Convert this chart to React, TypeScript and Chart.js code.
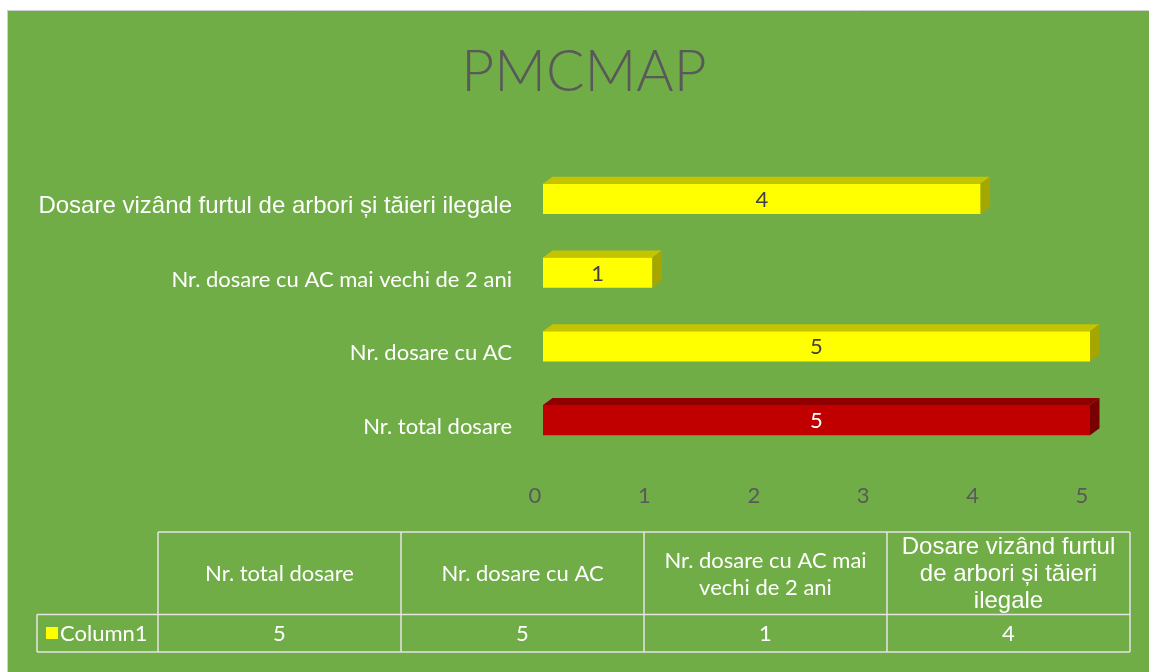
import { useEffect, useRef } from 'react';
import { Chart, registerables } from 'chart.js';

Chart.register(...registerables);

// ---- data ----
const categories = [
  'Nr. total dosare',
  'Nr. dosare cu AC',
  'Nr. dosare cu AC mai vechi de 2 ani',
  'Dosare vizând furtul de arbori și tăieri ilegale',
];
const values = [5, 5, 1, 4];
const seriesName = 'Column1';
const xTickValues = [0, 1, 2, 3, 4, 5];
const titleText = 'PMCMAP';

// ---- styles ----
const GREEN = '#70AD47';
const frontColors = ['#C00000', '#FFFF00', '#FFFF00', '#FFFF00'];
const topColors = ['#900000', '#C4C400', '#C4C400', '#C4C400'];
const sideColors = ['#780000', '#A6A600', '#A6A600', '#A6A600'];
const valueColors = ['#FFFFFF', '#404040', '#404040', '#404040'];
const useArial = [false, false, false, true];
const CAL = 'Lato, "Noto Sans", sans-serif';
const ARIAL = '"Liberation Sans", Arial, sans-serif';
const CAL_SIZE = 22;
const ARIAL_SIZE = 24;
const DEPTH_X = 9.5;
const DEPTH_Y = -7;

const CANVAS_W = 1142;
const CANVAS_H = 662;

const catFont = (i: number) =>
  useArial[i] ? `${ARIAL_SIZE}px ${ARIAL}` : `${CAL_SIZE}px ${CAL}`;

function wrapText(ctx: CanvasRenderingContext2D, text: string, maxW: number): string[] {
  const words = text.split(' ');
  const lines: string[] = [];
  let cur = '';
  for (const w of words) {
    const t = cur ? cur + ' ' + w : w;
    if (ctx.measureText(t).width > maxW && cur) {
      lines.push(cur);
      cur = w;
    } else cur = t;
  }
  if (cur) lines.push(cur);
  return lines;
}

const backgroundPlugin = {
  id: 'bg',
  beforeDraw(chart: any) {
    const { ctx, width, height } = chart;
    ctx.save();
    ctx.fillStyle = GREEN;
    ctx.fillRect(0, 0, width, height);
    ctx.strokeStyle = '#D0D0D0';
    ctx.lineWidth = 1;
    ctx.beginPath();
    ctx.moveTo(0.5, height);
    ctx.lineTo(0.5, 0.5);
    ctx.lineTo(width, 0.5);
    ctx.stroke();
    // chart title
    ctx.fillStyle = '#595959';
    ctx.font = `300 57px ${CAL}`;
    ctx.textAlign = 'center';
    ctx.textBaseline = 'alphabetic';
    ctx.fillText(titleText, width / 2 + 6, 81);
    ctx.restore();
  },
};

const bars3dPlugin = {
  id: 'bars3d',
  afterDatasetsDraw(chart: any) {
    const { ctx } = chart;
    const meta = chart.getDatasetMeta(0);
    meta.data.forEach((el: any, i: number) => {
      const { x, y, base, height } = el.getProps(['x', 'y', 'base', 'height'], true);
      const left = Math.min(base, x);
      const right = Math.max(base, x);
      const top = y - height / 2;
      const bottom = y + height / 2;
      ctx.save();
      // top face
      ctx.fillStyle = topColors[i];
      ctx.beginPath();
      ctx.moveTo(left, top);
      ctx.lineTo(left + DEPTH_X, top + DEPTH_Y);
      ctx.lineTo(right + DEPTH_X, top + DEPTH_Y);
      ctx.lineTo(right, top);
      ctx.closePath();
      ctx.fill();
      // side face
      ctx.fillStyle = sideColors[i];
      ctx.beginPath();
      ctx.moveTo(right, top);
      ctx.lineTo(right + DEPTH_X, top + DEPTH_Y);
      ctx.lineTo(right + DEPTH_X, bottom + DEPTH_Y);
      ctx.lineTo(right, bottom);
      ctx.closePath();
      ctx.fill();
      // value label
      ctx.fillStyle = valueColors[i];
      ctx.font = `${CAL_SIZE}px ${CAL}`;
      ctx.textAlign = 'center';
      ctx.textBaseline = 'middle';
      ctx.fillText(String(chart.data.datasets[0].data[i]), (left + right) / 2, y + 1);
      ctx.restore();
    });
  },
};

const dataTablePlugin = {
  id: 'dataTable',
  afterDraw(chart: any) {
    const { ctx } = chart;
    const labels: string[] = chart.data.labels;
    const data: number[] = chart.data.datasets[0].data;
    const n = labels.length;
    const tLeft = 151;
    const tRight = 1123;
    const legendLeft = 30;
    const yTop = 522;
    const yMid = 604.5;
    const yBot = 642;
    const colW = (tRight - tLeft) / n;
    ctx.save();
    ctx.strokeStyle = '#E4E4E4';
    ctx.lineWidth = 1.5;
    ctx.beginPath();
    ctx.moveTo(tLeft, yTop);
    ctx.lineTo(tRight, yTop);
    ctx.moveTo(legendLeft, yMid);
    ctx.lineTo(tRight, yMid);
    ctx.moveTo(legendLeft, yBot);
    ctx.lineTo(tRight, yBot);
    for (let c = 0; c <= n; c++) {
      const xx = tLeft + c * colW;
      ctx.moveTo(xx, yTop);
      ctx.lineTo(xx, yBot);
    }
    ctx.moveTo(legendLeft, yMid);
    ctx.lineTo(legendLeft, yBot);
    ctx.stroke();

    ctx.fillStyle = '#FFFFFF';
    ctx.textAlign = 'center';
    ctx.textBaseline = 'middle';
    const lineH = 27;
    for (let c = 0; c < n; c++) {
      const cx = tLeft + c * colW + colW / 2;
      ctx.font = catFont(c);
      const lines = wrapText(ctx, labels[c], colW - 10);
      const cy = (yTop + yMid) / 2 + 1;
      lines.forEach((ln, k) => {
        ctx.fillText(ln, cx, cy + (k - (lines.length - 1) / 2) * lineH);
      });
      ctx.font = `${CAL_SIZE}px ${CAL}`;
      ctx.fillText(String(data[c]), cx, (yMid + yBot) / 2 + 1);
    }
    ctx.fillStyle = frontColors[1];
    ctx.fillRect(legendLeft + 9, 617, 12, 12);
    ctx.fillStyle = '#FFFFFF';
    ctx.textAlign = 'left';
    ctx.font = `${CAL_SIZE}px ${CAL}`;
    ctx.fillText(seriesName, legendLeft + 23, (yMid + yBot) / 2 + 1);
    ctx.restore();
  },
};

export default function App() {
  const ref = useRef<HTMLCanvasElement | null>(null);
  useEffect(() => {
    if (!ref.current) return;
    const chart = new Chart(ref.current, {
      type: 'bar',
      data: {
        labels: categories,
        datasets: [
          {
            label: seriesName,
            data: values,
            backgroundColor: frontColors,
            borderWidth: 0,
            barPercentage: 0.407,
            categoryPercentage: 1,
          },
        ],
      },
      options: {
        indexAxis: 'y',
        animation: false,
        responsive: true,
        maintainAspectRatio: false,
        layout: { padding: { left: 0, right: 59, top: 152, bottom: 0 } },
        plugins: {
          legend: { display: false },
          tooltip: { enabled: false },
          title: { display: false },
        },
        scales: {
          x: {
            type: 'linear',
            min: 0,
            max: 5,
            afterBuildTicks: (s: any) => {
              s.ticks = xTickValues.map((v) => ({ value: v }));
            },
            afterFit: (s: any) => {
              s.height = 215;
            },
            grid: { display: false, drawTicks: false },
            border: { display: false },
            ticks: {
              color: '#595959',
              font: { family: CAL, size: CAL_SIZE },
              padding: 26,
              labelOffset: -8,
            },
          },
          y: {
            type: 'category',
            reverse: true,
            afterFit: (s: any) => {
              s.width = 536;
            },
            grid: { display: false, drawTicks: false },
            border: { display: false },
            ticks: {
              color: '#FFFFFF',
              padding: 31,
              labelOffset: 7,
              font: (c: any) =>
                useArial[c.index]
                  ? { family: ARIAL, size: ARIAL_SIZE }
                  : { family: CAL, size: CAL_SIZE },
            },
          },
        },
      },
      plugins: [backgroundPlugin, bars3dPlugin, dataTablePlugin],
    });
    return () => chart.destroy();
  }, []);
  return (
    <div
      style={{
        position: 'fixed',
        left: 7,
        top: 10,
        width: CANVAS_W,
        height: CANVAS_H,
      }}
    >
      <canvas ref={ref} />
    </div>
  );
}
